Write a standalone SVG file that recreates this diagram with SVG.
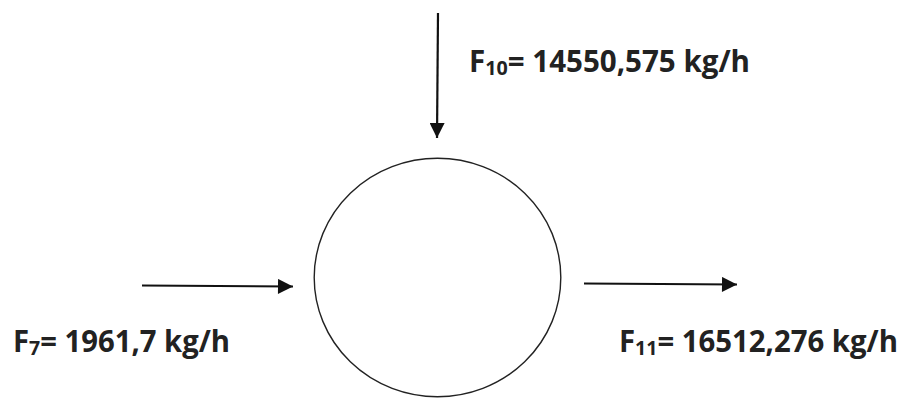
<svg xmlns="http://www.w3.org/2000/svg" width="904" height="399" viewBox="0 0 904 399">
  <style>
    .lbl { font-family: "Open Sans", "Liberation Sans", sans-serif; font-weight: bold; font-size: 30px; fill: #222; }
    .sub { font-size: 20px; }
    .flow { stroke: #111; stroke-width: 2.2; fill: none; }
  </style>
  <defs>
    <marker id="ah" viewBox="0 0 10 10" refX="10" refY="5" markerUnits="userSpaceOnUse" markerWidth="16" markerHeight="15" orient="auto">
      <path d="M0,0 L10,5 L0,10 Z" fill="#111"/>
    </marker>
  </defs>
  <rect width="904" height="399" fill="#fff"/>
  <g id="mixer">
    <ellipse cx="437.5" cy="277.5" rx="123.3" ry="119.2" fill="none" stroke="#222" stroke-width="1.4"/>
  </g>
  <g id="connectors">
    <line class="flow" x1="438" y1="13" x2="437" y2="138" marker-end="url(#ah)"/>
    <line class="flow" x1="142" y1="285.5" x2="293" y2="286.5" marker-end="url(#ah)"/>
    <line class="flow" x1="584" y1="283.5" x2="737" y2="284.5" marker-end="url(#ah)"/>
  </g>
  <g id="label-f10">
    <text class="lbl" x="469" y="72" textLength="281" lengthAdjust="spacingAndGlyphs">F<tspan class="sub" dy="3">10</tspan><tspan dy="-3">= 14550,575 kg/h</tspan></text>
  </g>
  <g id="label-f7">
    <text class="lbl" x="13" y="352" textLength="217" lengthAdjust="spacingAndGlyphs">F<tspan class="sub" dy="3">7</tspan><tspan dy="-3">= 1961,7 kg/h</tspan></text>
  </g>
  <g id="label-f11">
    <text class="lbl" x="619" y="352" textLength="279" lengthAdjust="spacingAndGlyphs">F<tspan class="sub" dy="3">11</tspan><tspan dy="-3">= 16512,276 kg/h</tspan></text>
  </g>
</svg>
